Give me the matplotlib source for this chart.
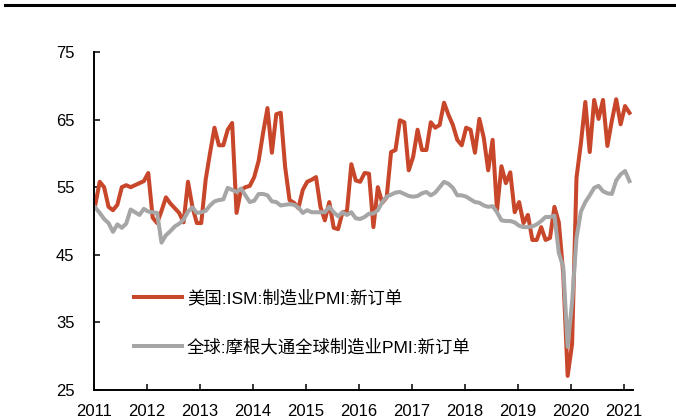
import numpy as np
import matplotlib
matplotlib.use('Agg')
import matplotlib.pyplot as plt
from matplotlib.lines import Line2D

plt.rcParams['font.family'] = ['Liberation Sans', 'Noto Sans CJK SC']

# Monthly new orders indices
ism = [52.4, 55.8, 55.0, 52.1, 51.6, 52.4, 55.0, 55.3, 55.0, 55.3, 55.6, 55.9,
       57.1, 50.5, 49.7, 51.5, 53.5, 52.6, 51.9, 51.2, 49.8, 55.8, 52.1, 49.7,
       49.7, 56.1, 60.1, 63.8, 61.2, 61.2, 63.5, 64.5, 51.2, 54.6, 55.0, 55.2,
       56.5, 58.9, 63.0, 66.7, 60.1, 65.8, 66.0, 58.0, 53.1, 52.7, 51.9, 54.6,
       55.8, 56.1, 56.5, 52.1, 50.1, 52.8, 49.0, 48.8, 51.3, 51.4, 58.4, 56.0,
       55.8, 57.1, 57.0, 49.1, 55.0, 52.7, 53.5, 60.2, 60.5, 64.9, 64.6, 57.5,
       59.5, 63.5, 60.5, 60.5, 64.6, 63.8, 64.2, 67.5, 65.7, 64.2, 62.0, 61.2,
       63.8, 63.5, 60.1, 65.1, 62.3, 57.5, 62.0, 51.6, 58.1, 55.6, 57.2, 51.3,
       52.8, 49.7, 50.9, 47.2, 47.2, 49.1, 47.2, 47.5, 52.1, 49.8, 42.2, 27.1,
       31.8, 56.4, 61.5, 67.6, 60.2, 67.9, 65.1, 67.9, 61.1, 64.8, 68.0, 64.3,
       67.0, 66.0]

jpm = [52.0, 51.2, 50.3, 49.7, 48.4, 49.5, 49.0, 49.6, 51.7, 51.3, 50.9, 51.8,
       51.4, 51.3, 51.2, 46.8, 47.9, 48.5, 49.2, 49.6, 50.2, 51.4, 52.0, 51.2,
       51.3, 51.5, 52.3, 52.9, 53.1, 53.2, 54.9, 54.6, 54.3, 54.8, 53.8, 52.8,
       53.0, 54.0, 54.0, 53.8, 52.9, 52.8, 52.3, 52.4, 52.5, 52.4, 52.0, 51.2,
       51.6, 51.3, 51.3, 51.3, 51.3, 52.1, 51.3, 50.7, 51.3, 50.9, 51.3, 50.4,
       50.3, 50.6, 51.1, 51.1, 51.6, 52.8, 53.6, 53.9, 54.2, 54.3, 54.0, 53.7,
       53.6, 53.7, 54.1, 54.3, 53.8, 54.2, 55.0, 55.8, 55.5, 54.9, 53.8, 53.8,
       53.6, 53.2, 52.8, 52.7, 52.3, 52.1, 52.2, 51.3, 50.1, 50.0, 50.0, 49.8,
       49.3, 49.1, 49.1, 49.2, 49.5, 50.0, 50.6, 50.6, 50.8, 45.3, 43.2, 31.4,
       38.0, 47.5, 51.4, 52.8, 53.8, 54.9, 55.2, 54.4, 54.1, 54.0, 56.0, 56.9,
       57.4, 55.9]

years = list(range(2011, 2022))
labels = ['美国:ISM:制造业PMI:新订单', '全球:摩根大通全球制造业PMI:新订单']

x = 2011 + (np.arange(len(ism)) + 0.3) / 12

fig = plt.figure(figsize=(6.76, 4.19), dpi=100)
ax = fig.add_axes([0.139, 0.069, 0.797, 0.807])

ax.plot(x, ism, color='#C8462A', lw=2.9, label=labels[0])
ax.plot(x, jpm, color='#A6A6A6', lw=2.9, label=labels[1])

ax.set_xlim(2011, 2021.17)
ax.set_ylim(25, 75)
ax.set_xticks(years)
ax.set_xticklabels([str(y) for y in years])
ax.set_yticks(range(25, 76, 10))

for s in ['top', 'right']:
    ax.spines[s].set_visible(False)
for s in ['left', 'bottom']:
    ax.spines[s].set_linewidth(1.4)

ax.tick_params(axis='both', direction='in', length=4, width=1.1, labelsize=12)
ax.tick_params(axis='y', pad=14)
ax.tick_params(axis='x', pad=10)

ax.legend(loc='center left', bbox_to_anchor=(0.074, 0.2), frameon=False,
          fontsize=12.5, handlelength=2.8, handletextpad=0.25, labelspacing=1.85,
          borderpad=0, borderaxespad=0)

# rule across the top of the figure
fig.add_artist(Line2D([0.007, 1.0], [0.987, 0.987], color='black', lw=2.2))

plt.savefig('out.png', dpi=100)
